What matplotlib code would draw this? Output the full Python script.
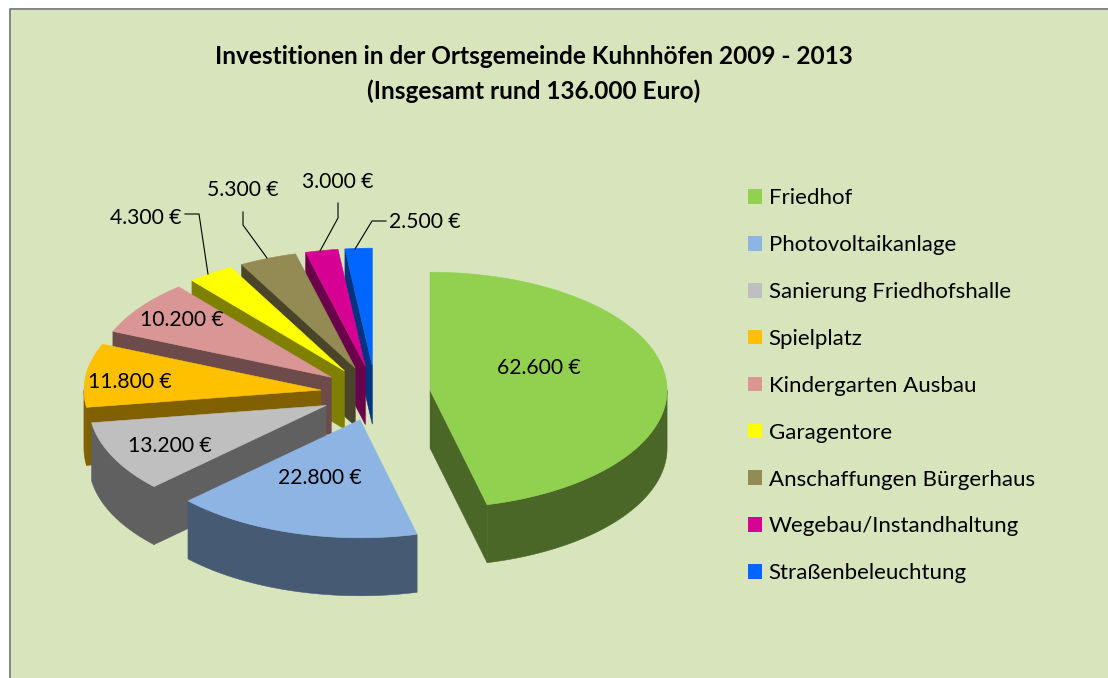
import numpy as np
import matplotlib
matplotlib.use('Agg')
import matplotlib.pyplot as plt
from matplotlib.patches import Polygon, Patch

plt.rcParams['font.family'] = ['Lato', 'DejaVu Sans']

categories = ['Friedhof', 'Photovoltaikanlage', 'Sanierung Friedhofshalle', 'Spielplatz', 'Kindergarten Ausbau',
              'Garagentore', 'Anschaffungen Bürgerhaus', 'Wegebau/Instandhaltung', 'Straßenbeleuchtung']
values = [62600, 22800, 13200, 11800, 10200, 4300, 5300, 3000, 2500]
labels = ['62.600 €', '22.800 €', '13.200 €', '11.800 €', '10.200 €', '4.300 €', '5.300 €', '3.000 €', '2.500 €']
top_colors = ['#92D050', '#8EB4E3', '#BFBFBF', '#FFC000', '#D99694', '#FFFF00', '#948A54', '#D60093', '#0066FF']
side_colors = ['#4A6728', '#475A73', '#606060', '#806000', '#6D4B4A', '#808000', '#4A452A', '#6B004A', '#003380']
label_pos = [(539, 368.5), (320, 477.5), (170, 446.5), (130, 382.5), (182, 320.5), (146, 217.5), (243, 190.5),
             (338, 181.5), (425, 221.5)]
leaders = {5: [(185, 214), (199, 214), (208, 274)],
           6: [(243, 212), (243, 225), (267, 258)],
           7: [(338, 203), (338, 218), (320, 251)],
           8: [(386, 221), (372, 221), (355, 249)]}

cx, cy = 375.5, 393.5
rx, ry = 237, 118
explode = 0.232
depth = 58


def rim(t, ox, oy):
    return np.column_stack([ox + rx * np.sin(t), oy - ry * np.cos(t)])


def draw_slice(ax, t1, t2, top, side, z):
    mid = (t1 + t2) / 2
    ox = cx + explode * rx * np.sin(mid)
    oy = cy - explode * ry * np.cos(mid)
    apex = np.array([ox, oy])
    arc = rim(np.linspace(t1, t2, 80), ox, oy)
    shift = np.array([0, depth])
    q = rim(np.array([mid]), ox, oy)[0] - apex
    for t in (t1, t2):
        p = rim(np.array([t]), ox, oy)[0]
        e = p - apex
        # cut face only shows when the slice lies above its edge
        if np.sign(e[0] * q[1] - e[1] * q[0]) != np.sign(e[0]):
            ax.add_patch(Polygon([apex, p, p + shift, apex + shift], fc=side, ec=side, lw=0.4, zorder=z))
    lo, hi = max(t1, np.pi / 2), min(t2, 3 * np.pi / 2)
    if hi > lo:
        w = rim(np.linspace(lo, hi, 80), ox, oy)
        ax.add_patch(Polygon(np.vstack([w, (w + shift)[::-1]]), fc=side, ec=side, lw=0.4, zorder=z))
    ax.add_patch(Polygon(np.vstack([apex, arc]), fc=top, ec=top, lw=0.4, zorder=z + 0.5))


fig = plt.figure(figsize=(11.08, 6.78), dpi=100)
fig.patch.set_facecolor('white')
ax = fig.add_axes([0, 0, 1, 1])
ax.set_xlim(0, 1108)
ax.set_ylim(678, 0)
ax.axis('off')

ax.add_patch(Polygon([(9, 678), (9, 8), (1108, 8), (1108, 678)], fc='#D8E4BC', ec='none', zorder=0))
ax.plot([9.5, 9.5, 1108], [678, 8.5, 8.5], color='#7F7F7F', lw=1.3, zorder=1)

edges = np.cumsum([0] + values) / sum(values) * 2 * np.pi
# back slices first so the front ones sit on top
for i in [8, 7, 6, 5, 4, 3, 2, 1, 0]:
    draw_slice(ax, edges[i], edges[i + 1], top_colors[i], side_colors[i], 2 + (8 - i))

for i, pts in leaders.items():
    xs, ys = zip(*pts)
    ax.plot(xs, ys, color='black', lw=0.8, zorder=20)

for lab, (x, y) in zip(labels, label_pos):
    ax.text(x, y, lab, ha='center', va='center', fontsize=15.2, color='black', zorder=21)

ax.text(534, 56.5, 'Investitionen in der Ortsgemeinde Kuhnhöfen 2009 - 2013', ha='center', va='center',
        fontsize=17.6, fontweight='bold')
ax.text(534, 91, '(Insgesamt rund 136.000 Euro)', ha='center', va='center', fontsize=17.6, fontweight='bold')

handles = [Patch(fc=c, ec='none') for c in top_colors]
ax.legend(handles, categories, loc='upper left', bbox_to_anchor=(748 / 1108, 1 - 188.5 / 678), frameon=False,
          fontsize=16, handlelength=0.63, handleheight=0.63, handletextpad=0.3, labelspacing=1.208,
          borderpad=0.0, borderaxespad=0.0, labelcolor='black')

fig.savefig('out.png', dpi=100)
